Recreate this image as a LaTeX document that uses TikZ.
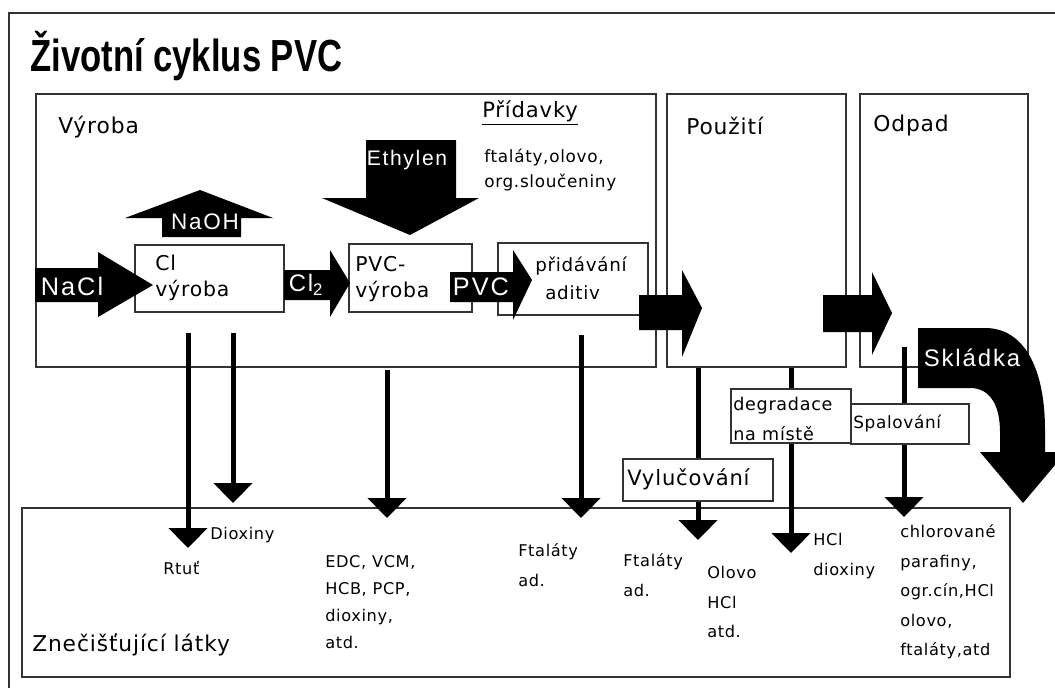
\documentclass[tikz,border=0pt]{standalone}
\usepackage{graphicx}
\usepackage{fontspec}
\setmainfont{DejaVu Sans}[LetterSpace=4]
\newfontfamily\titlefont{Liberation Sans}
\newfontfamily\arrowfont{Liberation Sans}[LetterSpace=8]
\usetikzlibrary{arrows.meta, fit, calc}

\tikzset{
	frame/.style={draw=black!80, line width=0.45mm},
	box/.style={frame, fill=white, inner sep=0pt, fit={#1}},
	sect/.style={anchor=west, inner sep=0pt, font=\fontsize{15.5}{18}\selectfont},
	inlab/.style={anchor=west, inner sep=0pt, align=left, font=\fontsize{14.5}{18}\selectfont},
	note/.style={anchor=west, inner sep=0pt, align=left, font=\fontsize{11.5}{21}\selectfont},
	blk/.style={fill=black},
	arrlab/.style={text=white, inner sep=0pt, font=\arrowfont\fontsize{#1}{#1}\selectfont},
	stem/.style={line width=1.25mm},
	drop/.style={stem, -{Triangle[width=9.5mm,length=5mm]}}
}

\begin{document}
\begin{tikzpicture}[x=0.25mm, y=-0.25mm]
	\useasboundingbox (0,0) rectangle (1055,687);
	\clip (0,0) rectangle (1055,687);
	\draw[frame] (9,13) rectangle (1070,700);

	\node[anchor=base west, inner sep=0pt] (title) at (30,71)
		{\scalebox{0.77}[1]{\titlefont\bfseries\fontsize{32}{32}\selectfont Životní cyklus PVC}};

	% stages
	\node[box={(36,94) (656,367)}] (vyroba) {};
	\node[box={(667,94) (846,367)}] (pouziti) {};
	\node[box={(860,94) (1028,367)}] (odpad) {};
	\node[box={(22,508) (1010,677)}] (znec) {};
	\node[sect] (vyroba-t) at (58,127) {Výroba};
	\node[sect] (pouziti-t) at (686,126) {Použití};
	\node[sect] (odpad-t) at (873,125) {Odpad};
	\node[sect] (znec-t) at (32,645) {Znečišťující látky};

	\node[sect, font=\fontsize{15}{18}\selectfont] (pridavky) at (482,113) {\underline{Přídavky}};
	\node[note, font=\fontsize{12}{17.8}\selectfont] (pridavky-t) at (484,170) {ftaláty,olovo,\\org.sloučeniny};

	% production steps
	\node[box={(135,245) (284,312)}] (clvyr) {};
	\node[box={(349,244) (472,312)}] (pvcvyr) {};
	\node[box={(498,243) (648,315)}] (aditiv) {};
	\node[inlab] (clvyr-t) at (155,278) {Cl\\výroba};
	\node[inlab] (pvcvyr-t) at (355,279) {PVC-\\výroba};
	\node[inlab, font=\fontsize{13}{20}\selectfont] (aditiv-t) at (535,278) {přidávání\\\hspace{2.5mm}aditiv};

	% block arrows
	\fill[blk] (35,268) -- (98,268) -- (98,252) -- (153,285) -- (98,317) -- (98,302) -- (35,302) -- cycle;
	\node[arrlab=18] (nacl) at (72,286) {NaCl};
	\fill[blk] (162,237) -- (162,218) -- (125,218) -- (200,190) -- (273,218) -- (241,218) -- (241,237) -- cycle;
	\node[arrlab=16] (naoh) at (205,222) {NaOH};
	\fill[blk] (284,270) -- (330,270) -- (330,250) -- (350,283) -- (330,317) -- (330,300) -- (284,300) -- cycle;
	\node[arrlab=17] (cl2) at (306,285) {Cl\textsubscript{2}};
	\fill[blk] (366,140) -- (456,140) -- (456,198) -- (479,198) -- (410,235) -- (322,198) -- (366,198) -- cycle;
	\node[arrlab=15] (ethylen) at (407,160) {Ethylen};
	\fill[blk] (450,272) -- (513,272) -- (513,250) -- (532,280) -- (513,320) -- (513,302) -- (450,302) -- cycle;
	\node[arrlab=18] (pvc) at (481,287) {PVC};
	\fill[blk] (639,295) -- (682,295) -- (682,270) -- (702,308) -- (682,357) -- (682,330) -- (639,330) -- cycle;
	\fill[blk] (823,295) -- (872,295) -- (872,272) -- (892,313) -- (872,355) -- (872,332) -- (823,332) -- cycle;
	\fill[blk] (918,328) -- (985,328) .. controls (1025,328) and (1045,370) .. (1045,430) -- (1045,452)
		-- (1066,452) -- (1023,503) -- (980,452) -- (1000,452) -- (1000,432)
		.. controls (1000,405) and (990,388) .. (970,388) -- (918,388) -- cycle;
	\node[arrlab=17] (skladka) at (972,358) {Skládka};

	% ways out
	\node[box={(851,404) (969,444)}] (spal) {};
	\node[note, font=\fontsize{12}{21}\selectfont] (spal-t) at (853,424) {Spalování};
	\node[box={(731,389) (851,443)}] (degrad) {};
	\node[note, font=\fontsize{12.5}{21.3}\selectfont] (degrad-t) at (733,419) {degradace\\na místě};
	\node[box={(623,459) (773,501)}] (vyluc) {};
	\node[sect, font=\fontsize{15}{18}\selectfont] (vyluc-t) at (627,479) {Vylučování};

	\coordinate (hg0) at (188,333);  \coordinate (hg1) at (188,548);
	\coordinate (dx0) at (233,333);  \coordinate (dx1) at (233,503);
	\coordinate (edc0) at (387,370); \coordinate (edc1) at (387,518);
	\coordinate (ft0) at (581,335);  \coordinate (ft1) at (581,518);
	\coordinate (vy1) at (698,540);
	\coordinate (dg1) at (791,553);
	\coordinate (sp0) at (904,347);  \coordinate (sp1) at (904,517);

	\draw[drop] (hg0) -- (hg1);
	\draw[drop] (dx0) -- (dx1);
	\draw[drop] (edc0) -- (edc1);
	\draw[drop] (ft0) -- (ft1);
	\draw[stem] (pouziti.south -| vyluc.north) -- (vyluc.north);
	\draw[drop] (vyluc.south) -- (vy1);
	\draw[stem] (pouziti.south -| degrad.north) -- (degrad.north);
	\draw[drop] (degrad.south) -- (dg1);
	\draw[stem] (sp0) -- (sp0 |- spal.north);
	\draw[drop] (sp0 |- spal.south) -- (sp1);

	% pollutants
	\node[note] (dioxiny) at (210,535) {Dioxiny};
	\node[note] (rtut) at (163,568) {Rtuť};
	\node[note, font=\fontsize{11.5}{19.2}\selectfont] (edc) at (325,602) {EDC, VCM,\\HCB, PCP,\\dioxiny,\\atd.};
	\node[note] (ftal1) at (518,565) {Ftaláty\\ad.};
	\node[note] (ftal2) at (623,575) {Ftaláty\\ad.};
	\node[note] (olovo) at (707,602) {Olovo\\HCl\\atd.};
	\node[note] (hcl) at (813,556) {HCl\\dioxiny};
	\node[note] (chlor) at (900,592) {chlorované\\parafiny,\\ogr.cín,HCl\\olovo,\\ftaláty,atd};
\end{tikzpicture}
\end{document}
